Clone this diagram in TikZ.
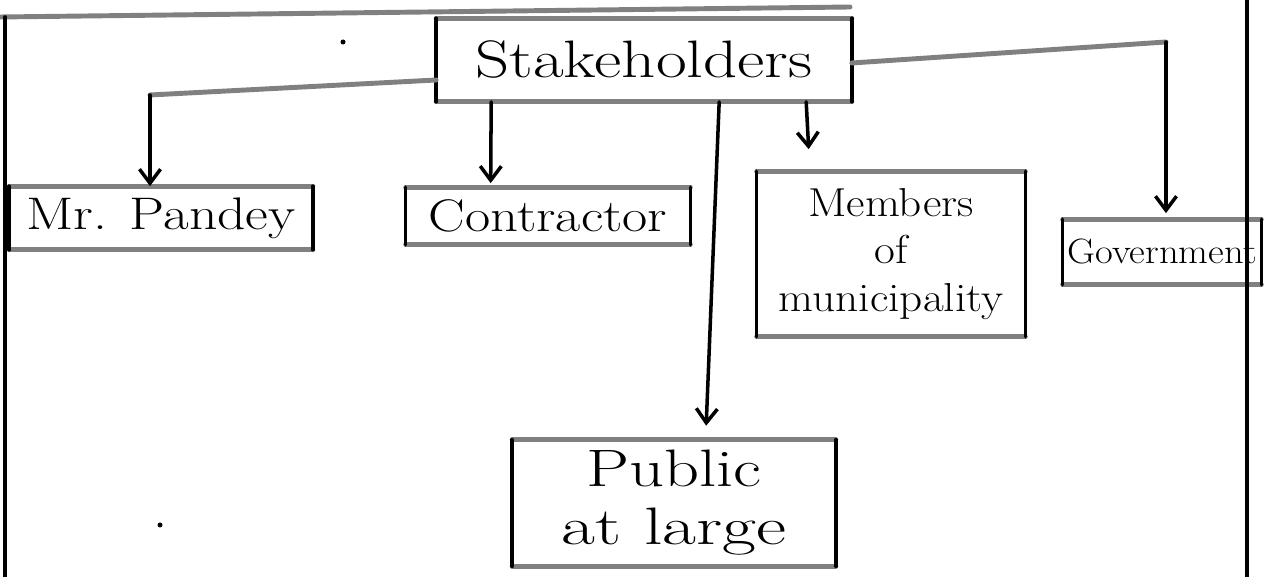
\documentclass[tikz,border=0pt]{standalone}
\usepackage{fontspec}
\usepackage{graphicx}
\usetikzlibrary{arrows.meta,calc}
\newcommand\handbox[1]{%
  \draw[hl] (#1.north west) -- (#1.north east);
  \draw[hl] (#1.south west) -- (#1.south east);
  \draw[vl] (#1.north west) -- (#1.south west);
  \draw[vl] (#1.north east) -- (#1.south east);}
\newcommand\hw[2]{\fontsize{#1}{#2}\selectfont}
\newcommand\wide[2]{\scalebox{#1}[1]{#2}}
\begin{document}
\begin{tikzpicture}[x=0.02cm,y=-0.02cm,
  hl/.style={line width=2.8pt,draw=black!50,line cap=round},
  vl/.style={line width=2pt,draw=black,line cap=round},
  arr/.style={vl,-{Straight Barb[length=8pt,width=12pt,line width=2pt]}},
  box/.style={draw=none,inner sep=0pt,align=center}]
\useasboundingbox (0,0) rectangle (1269,577);
% nodes
\node[box,minimum width=8.3cm,minimum height=1.66cm,font=\hw{30}{34}] (S) at (644,60) {\wide{1.27}{Stakeholders}};
\node[box,minimum width=6.06cm,minimum height=1.26cm,font=\hw{26}{30}] (P) at (161,218) {\wide{1.22}{Mr. Pandey}};
\node[box,minimum width=5.68cm,minimum height=1.14cm,font=\hw{26}{30}] (C) at (548,216) {\wide{1.2}{Contractor}};
\node[box,minimum width=5.36cm,minimum height=3.3cm,font=\hw{23}{27}] (M) at (891,254) {\wide{1.12}{Members}\\\wide{1.12}{of}\\\wide{1.12}{municipality}};
\node[box,minimum width=3.96cm,minimum height=1.3cm,font=\hw{20}{22}] (G) at (1162,252) {\wide{1.1}{Government}};
\node[box,minimum width=6.46cm,minimum height=2.52cm,font=\hw{30}{33}] (L) at (674,503) {\wide{1.3}{Public}\\\wide{1.4}{at large}};
\handbox{S}
\handbox{P}
\handbox{C}
\handbox{M}
\handbox{G}
\handbox{L}
% connectors
\coordinate (c1) at (150,95);
\coordinate (c2) at (1166,42);
\draw[hl] ($(S.west)+(0,20)$) -- (c1);
\draw[arr] (c1) -- (c1 |- P.north);
\draw[hl] ($(S.east)+(0,3)$) -- (c2);
\draw[arr] (c2) -- ($(c2 |- G.north)+(0,-6)$);
\draw[arr] ($(S.south west)+(55,0)$) -- ($(C.north west)+(85,-4)$);
\draw[arr] ($(S.south west)+(283,0)$) -- ($(L.north west)+(194,-14)$);
\draw[arr] ($(S.south west)+(370,0)$) -- ($(M.north west)+(52,-22)$);
% frame
\draw[hl] (0,17) -- (850,7);
\draw[vl] (5,17) -- (5,577);
\draw[vl] (1247,0) -- (1247,577);
% pen dots
\fill (343,42) circle (2.5);
\fill (160,525) circle (2.5);
\end{tikzpicture}
\end{document}
